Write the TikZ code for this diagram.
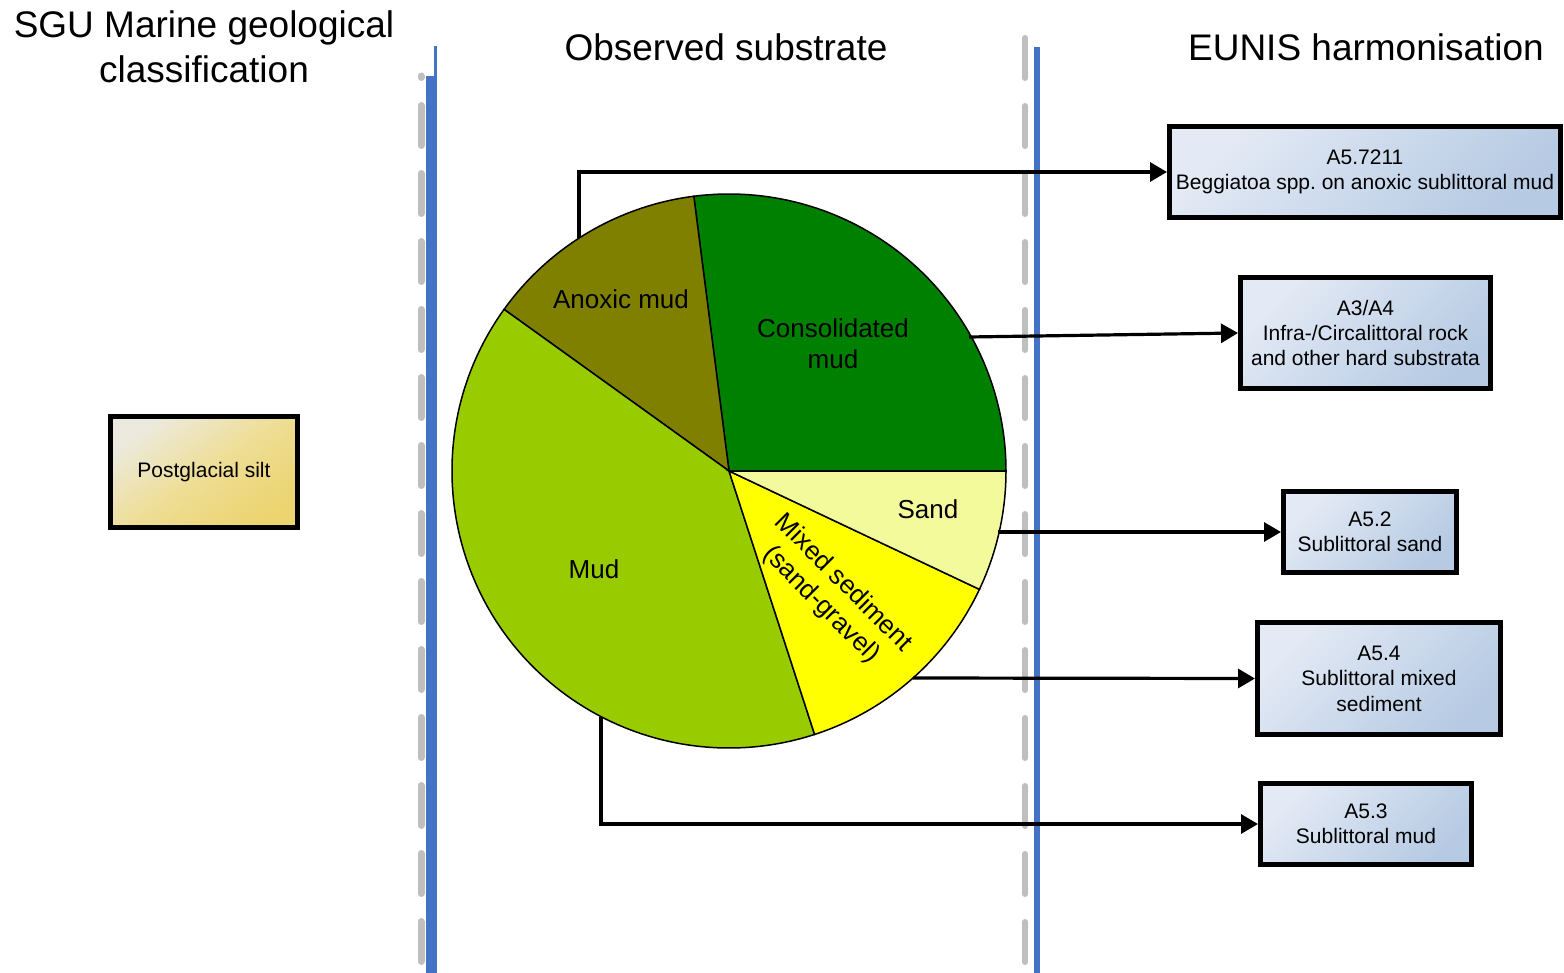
\documentclass[tikz,border=0pt]{standalone}
\usepackage{fontspec}
\setmainfont{Liberation Sans}
\usetikzlibrary{arrows.meta,shadings}
\frenchspacing

\definecolor{officeblue}{RGB}{68,114,196}
\definecolor{dashgray}{RGB}{191,191,191}
\definecolor{consolc}{RGB}{0,128,0}
\definecolor{anoxicc}{RGB}{128,128,0}
\definecolor{mudc}{RGB}{153,204,0}
\definecolor{mixedc}{RGB}{255,255,0}
\definecolor{sandc}{RGB}{243,250,155}
\definecolor{eunisA}{RGB}{228,234,245}
\definecolor{eunisM}{RGB}{204,218,236}
\definecolor{eunisB}{RGB}{182,202,227}
\definecolor{siltA}{RGB}{236,234,222}
\definecolor{siltM}{RGB}{238,222,150}
\definecolor{siltB}{RGB}{236,212,112}

\newcommand\titlefont{\fontsize{18.5}{22.5}\selectfont}
\newcommand\piefont{\fontsize{13}{15.5}\selectfont}
\newcommand\boxfont{\fontsize{10.5}{12.7}\selectfont}

\tikzset{
  heading/.style={align=center, inner sep=0pt, font=\titlefont},
  slicelabel/.style={align=center, inner sep=0pt, font=\piefont},
  slice/.style={draw=black, line width=0.75pt},
  eunisbox/.style={draw=black, line width=2.5pt, shading=axis,
    top color=eunisA, bottom color=eunisB, middle color=eunisM, shading angle=45,
    inner sep=0pt, align=center, font=\boxfont},
  siltbox/.style={eunisbox, top color=siltA, bottom color=siltB, middle color=siltM, shading angle=35},
  conn/.style={draw=black, line width=1.6pt, -{Triangle[length=8.5pt,width=9.5pt]}},
  bluerule/.style={draw=officeblue},
  grayrule/.style={draw=dashgray, line cap=round}
}

\begin{document}
\begin{tikzpicture}[x=0.5pt,y=-0.5pt]
\useasboundingbox (0,0) rectangle (1564,973);

% column headings
\node[heading] (hsgu) at (204,47) {SGU Marine geological\\classification};
\node[heading] (hobs) at (726,47) {Observed substrate};
\node[heading] (heunis) at (1366,47) {EUNIS harmonisation};

% column separators
\draw[grayrule, line width=3.5pt, dash pattern=on 20pt off 14pt, dash phase=19.25pt] (421,76) -- (421,975);
\draw[grayrule, line width=3pt, dash pattern=on 20pt off 14pt] (1025,38) -- (1025,975);
\fill[officeblue] (426,76) rectangle (436.5,973);
\fill[officeblue] (433.5,46) rectangle (437,76);
\draw[bluerule, line width=3pt] (1037,47) -- (1037,973);

% pie of observed substrate
\coordinate (C) at (729,471);
\filldraw[slice, fill=consolc] (C) -- +(0:277) arc[start angle=0, end angle=-97.3, radius=277] -- cycle;
\filldraw[slice, fill=anoxicc] (C) -- +(-97.3:277) arc[start angle=-97.3, end angle=-144.3, radius=277] -- cycle;
\filldraw[slice, fill=mudc] (C) -- +(-144.3:277) arc[start angle=-144.3, end angle=-288, radius=277] -- cycle;
\filldraw[slice, fill=mixedc] (C) -- +(-288:277) arc[start angle=-288, end angle=-334.7, radius=277] -- cycle;
\filldraw[slice, fill=sandc] (C) -- +(-334.7:277) arc[start angle=-334.7, end angle=-360, radius=277] -- cycle;

\node[slicelabel] (lanoxic) at (621,299) {Anoxic mud};
\node[slicelabel] (lconsol) at (833,343.5) {Consolidated\\mud};
\node[slicelabel] (lsand) at (928,509) {Sand};
\node[slicelabel] (lmud) at (594,569) {Mud};
\node[slicelabel, rotate=-45] (lmixed) at (832,594) {Mixed sediment\\(sand-gravel)};

% points on the pie rim where the connectors leave
\coordinate (oanoxic) at (579,238);
\coordinate (oconsol) at (969,337);
\coordinate (osand) at (998,532);
\coordinate (omixed) at (913,678);
\coordinate (omud) at (601,717);

% classification boxes
\node[siltbox, minimum width=93.5pt, minimum height=55.5pt] (silt) at (204,472) {Postglacial silt};
\node[eunisbox, minimum width=195.5pt, minimum height=45.5pt] (a57211) at (1365,172) {A5.7211\\Beggiatoa spp. on anoxic sublittoral mud};
\node[eunisbox, minimum width=125pt, minimum height=55.5pt] (a3a4) at (1365.5,333) {A3/A4\\Infra-/Circalittoral rock\\and other hard substrata};
\node[eunisbox, minimum width=86.5pt, minimum height=40.5pt] (a52) at (1370,532) {A5.2\\Sublittoral sand};
\node[eunisbox, minimum width=121.5pt, minimum height=56pt] (a54) at (1379,678.5) {A5.4\\Sublittoral mixed\\sediment};
\node[eunisbox, minimum width=105.5pt, minimum height=40.5pt] (a53) at (1366,824) {A5.3\\Sublittoral mud};

% connectors
\draw[conn] (oanoxic) |- (a57211.west);
\draw[conn] (oconsol) -- (a3a4.west);
\draw[conn] (osand) -- (a52.west);
\draw[conn] (omixed) -- (a54.west);
\draw[conn] (omud) |- (a53.west);
\end{tikzpicture}
\end{document}
